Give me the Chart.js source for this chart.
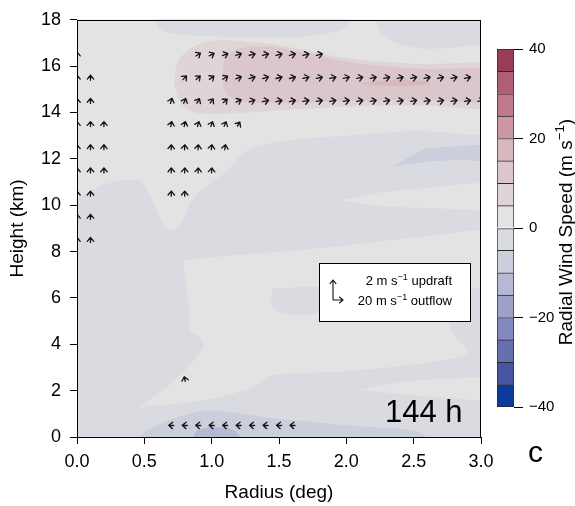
<!DOCTYPE html>
<html>
<head>
<meta charset="utf-8">
<script src="https://cdn.jsdelivr.net/npm/chart.js@4.4.0/dist/chart.umd.min.js"></script>
<style>
  html, body { margin: 0; padding: 0; background: #fff; }
  #wrap { position: relative; width: 575px; height: 506px; }
  #main { position: absolute; left: 0; top: 0; }
  #bar { position: absolute; left: 480px; top: 0; }
</style>
</head>
<body>
<div id="wrap">
  <canvas id="main" width="575" height="506"></canvas>
  <canvas id="bar" width="95" height="506"></canvas>
</div>
<script>
// Radial wind speed levels (m/s) and their colours, bottom to top
const levelEdges = [-40, -35, -30, -25, -20, -15, -10, -5, 0, 5, 10, 15, 20, 25, 30, 35, 40];
const levelColors = [
    '#0b3b9f', '#4655a3', '#6670b0', '#8389bd', '#9ca1c8', '#b5b9d4', '#cbcedb', '#dadbe0',
    '#e3e3e3', '#dfd4d6', '#dbc7cb', '#d6b8be', '#cb98a3', '#bf7b8b', '#b05e73', '#9c3d58'
];
const colorbarTicks = [-40, -20, 0, 20, 40];

// Contour patches as [radius (deg), height (km)] outlines, painted in this order
const patchBase = [[-0.5, -1], [3.5, -1], [3.5, 19], [-0.5, 19]];
const patchUpperLight = [[-0.3, 10.2], [0.0, 10.3], [0.18, 10.85], [0.36, 11.1], [0.48, 11.0], [0.56, 10.2],
    [0.63, 9.3], [0.7, 8.9], [0.78, 9.3], [0.85, 10.2], [0.95, 10.8], [1.12, 11.5], [1.25, 12.3], [1.5, 12.75],
    [2.0, 13.0], [2.5, 13.2], [3.3, 13.3], [3.3, 16.7], [2.6, 16.75], [2.4, 16.95], [2.25, 17.5], [2.15, 19], [-0.3, 19]];
const patchTopDark = [[0.55, 19], [0.62, 17.6], [0.8, 17.35], [1.2, 17.25], [1.6, 17.25], [1.85, 17.4], [2.0, 17.7], [2.1, 19]];
const patchOutflowOuter = [[0.72, 15.3], [0.75, 16.2], [0.85, 16.8], [1.0, 17.1], [1.3, 17.05], [1.7, 16.7], [2.0, 16.35],
    [2.5, 16.1], [3.3, 15.95], [3.3, 14.3], [2.5, 14.3], [2.0, 14.25], [1.5, 14.1], [1.1, 13.95], [0.88, 14.0], [0.77, 14.4]];
const patchOutflowInner = [[1.08, 15.6], [1.1, 16.3], [1.2, 16.75], [1.4, 16.85], [1.7, 16.6], [2.0, 16.2], [2.5, 15.9],
    [3.3, 15.75], [3.3, 14.55], [2.5, 14.55], [2.0, 14.5], [1.5, 14.4], [1.2, 14.5], [1.1, 14.9]];
const patchOutflowCore = [[2.1, 15.25], [2.3, 15.38], [2.6, 15.35], [2.62, 15.22], [2.3, 15.15]];
const patchUpperBlue = [[2.35, 11.65], [2.5, 12.2], [2.6, 12.45], [3.3, 12.55], [3.3, 11.9], [2.8, 11.95], [2.5, 11.8]];
const patchMidLight = [[1.95, 10.2], [2.2, 10.5], [2.5, 10.7], [3.3, 10.95], [3.3, 9.9], [2.5, 9.9], [2.2, 10.0]];
const patchLowLight = [[0.79, 7.6], [1.0, 7.75], [1.4, 7.95], [1.9, 8.2], [2.5, 8.6], [3.3, 8.85], [3.3, 6.9], [2.95, 6.4],
    [2.78, 5.5], [2.78, 4.6], [2.9, 3.65], [2.7, 3.3], [2.3, 3.0], [1.9, 2.8], [1.45, 2.66], [1.3, 2.15], [1.05, 1.72],
    [0.7, 1.4], [0.45, 1.25], [0.36, 0.86], [0.5, 1.45], [0.72, 2.4], [0.85, 3.2], [0.94, 3.95], [0.9, 4.4], [0.84, 4.6],
    [0.83, 5.8], [0.8, 7.0]];
const patchLowDarkBlob = [[1.45, 6.4], [1.45, 5.6], [1.55, 5.3], [1.75, 5.3], [1.85, 5.6], [1.85, 6.4]];
const patchNearSurfaceLight = [[2.1, 2.05], [2.4, 2.35], [2.7, 2.5], [3.3, 2.5], [3.3, 1.6], [2.7, 1.7], [2.4, 1.85]];
const patchInflowOuter = [[0.42, -0.5], [0.5, 0.2], [0.65, 0.65], [0.8, 0.95], [0.97, 1.15], [1.15, 1.08], [1.4, 0.85],
    [1.8, 0.62], [2.2, 0.42], [2.55, 0.2], [2.62, -0.5]];
const patchInflowCore = [[0.86, -0.5], [0.88, 0.2], [0.95, 0.38], [1.05, 0.42], [1.15, 0.32], [1.2, 0.1], [1.22, -0.5]];

const patches = [patchBase, patchUpperLight, patchTopDark, patchOutflowOuter, patchOutflowInner, patchOutflowCore,
    patchUpperBlue, patchMidLight, patchLowLight, patchLowDarkBlob, patchNearSurfaceLight, patchInflowOuter, patchInflowCore];
const patchLevels = [7, 8, 7, 9, 10, 11, 6, 8, 8, 7, 8, 6, 5];

// Wind vectors: one row per height (km), radius (deg), radial wind u (m/s), vertical wind w (m/s)
const arrowRows = [16.5, 15.5, 14.5, 13.5, 12.5, 11.5, 10.5, 9.5, 8.5, 2.5, 0.5];
const arrowR = [
    [0.0, 0.9, 1.0, 1.1, 1.2, 1.3, 1.4, 1.5, 1.6, 1.7, 1.8],
    [0.0, 0.1, 0.8, 0.9, 1.0, 1.1, 1.2, 1.3, 1.4, 1.5, 1.6, 1.7, 1.8, 1.9, 2.0, 2.1, 2.2, 2.3, 2.4, 2.5, 2.6, 2.7, 2.8, 2.9],
    [0.0, 0.1, 0.7, 0.8, 0.9, 1.0, 1.1, 1.2, 1.3, 1.4, 1.5, 1.6, 1.7, 1.8, 1.9, 2.0, 2.1, 2.2, 2.3, 2.4, 2.5, 2.6, 2.7, 2.8, 2.9, 3.0],
    [0.0, 0.1, 0.2, 0.7, 0.8, 0.9, 1.0, 1.1, 1.2],
    [0.0, 0.1, 0.2, 0.7, 0.8, 0.9, 1.0, 1.1],
    [0.0, 0.1, 0.2, 0.7, 0.8, 0.9, 1.0],
    [0.0, 0.1, 0.7, 0.8],
    [0.0, 0.1],
    [0.0, 0.1],
    [0.8],
    [0.7, 0.8, 0.9, 1.0, 1.1, 1.2, 1.3, 1.4, 1.5, 1.6]
];
const arrowU = [
    [0, 9, 10, 11, 11, 12, 12, 12, 12, 12, 12],
    [0, 0, 7, 8, 9, 10, 11, 12, 12, 12, 12, 12, 12, 12, 12, 12, 12, 12, 12, 12, 12, 12, 12, 12],
    [0, 0, 3.5, 4, 5, 6, 8, 10, 11, 12, 12, 12, 12, 12, 12, 12, 12, 12, 12, 12, 12, 12, 12, 12, 12, 12],
    [0, 0, 0, 2, 2.5, 3, 3.5, 4, 5],
    [0, 0, 0, 0.5, 1, 1, 1.5, 1.5],
    [0, 0, 0, 0, 0.5, 0.5, 0.5],
    [0, 0, 0, 0],
    [0, 0],
    [0, 0],
    [-2],
    [-10, -10, -10, -10, -10, -10, -10, -10, -10, -10]
];
const arrowW = [
    [0.5, 0.28, 0.25, 0.2, 0.18, 0.16, 0.15, 0.15, 0.14, 0.14, 0.14],
    [0.5, 0.5, 0.38, 0.35, 0.33, 0.3, 0.22, 0.17, 0.16, 0.15, 0.15, 0.14, 0.14, 0.14, 0.14, 0.13, 0.13, 0.13, 0.13, 0.12, 0.12, 0.12, 0.12, 0.12],
    [0.5, 0.5, 0.5, 0.48, 0.45, 0.42, 0.35, 0.25, 0.18, 0.13, 0.12, 0.12, 0.11, 0.11, 0.11, 0.1, 0.1, 0.1, 0.1, 0.1, 0.1, 0.1, 0.1, 0.1, 0.1, 0.1],
    [0.5, 0.5, 0.5, 0.5, 0.5, 0.48, 0.47, 0.45, 0.4],
    [0.5, 0.5, 0.5, 0.5, 0.5, 0.5, 0.5, 0.5],
    [0.5, 0.5, 0.5, 0.5, 0.5, 0.5, 0.5],
    [0.5, 0.5, 0.5, 0.5],
    [0.5, 0.5],
    [0.5, 0.5],
    [0.45],
    [0.02, 0.02, 0.02, 0.02, 0.02, 0.02, 0.02, 0.02, 0.02, 0.02]
];

// Vector key: 20 m/s outflow and 2 m/s updraft
const keyOutflow = 20;
const keyUpdraft = 2;
const PX_PER_U = 0.5;   // pixels per m/s of radial wind
const PX_PER_W = 10;    // pixels per m/s of vertical wind

const FONT = "'Liberation Sans', Arial, Helvetica, sans-serif";
Chart.defaults.font.family = FONT;
Chart.defaults.color = '#000';

function drawArrow(ctx, x0, y0, x1, y1, head) {
    const ang = Math.atan2(y1 - y0, x1 - x0);
    ctx.beginPath();
    ctx.moveTo(x0, y0);
    ctx.lineTo(x1, y1);
    ctx.moveTo(x1 - head * Math.cos(ang - 0.7), y1 - head * Math.sin(ang - 0.7));
    ctx.lineTo(x1, y1);
    ctx.lineTo(x1 - head * Math.cos(ang + 0.7), y1 - head * Math.sin(ang + 0.7));
    ctx.stroke();
}

// text with a "−1" style superscript part
function drawSupText(ctx, parts, x, y, size) {
    let cx = x;
    parts.forEach(p => {
        const s = p.sup ? size * 0.7 : size;
        ctx.font = s + 'px ' + FONT;
        ctx.fillText(p.t, cx, p.sup ? y - size * 0.42 : y);
        cx += ctx.measureText(p.t).width;
    });
}
function supTextWidth(ctx, parts, size) {
    let w = 0;
    parts.forEach(p => {
        ctx.font = (p.sup ? size * 0.7 : size) + 'px ' + FONT;
        w += ctx.measureText(p.t).width;
    });
    return w;
}

const arrowPlugin = {
    id: 'windArrows',
    afterDatasetsDraw(chart) {
        const {ctx, chartArea: a, scales: {x, y}} = chart;
        ctx.save();
        ctx.beginPath();
        ctx.rect(a.left, a.top, a.right - a.left, a.bottom - a.top);
        ctx.clip();
        ctx.strokeStyle = '#141414';
        ctx.lineWidth = 1.3;
        ctx.lineCap = 'round';
        ctx.lineJoin = 'round';
        arrowRows.forEach((h, j) => {
            arrowR[j].forEach((r, i) => {
                const cx = x.getPixelForValue(r);
                const cy = y.getPixelForValue(h);
                const dx = arrowU[j][i] * PX_PER_U;
                const dy = -arrowW[j][i] * PX_PER_W;
                drawArrow(ctx, cx - dx / 2, cy - dy / 2, cx + dx / 2, cy + dy / 2, 5);
            });
        });
        ctx.restore();
    }
};

const framePlugin = {
    id: 'frameAndKey',
    afterDraw(chart) {
        const {ctx, chartArea: a} = chart;
        ctx.save();
        ctx.strokeStyle = '#000';
        ctx.lineWidth = 1;
        ctx.strokeRect(Math.round(a.left) + 0.5, Math.round(a.top) + 0.5,
            Math.round(a.right - a.left) - 1, Math.round(a.bottom - a.top));

        // vector key box
        ctx.fillStyle = '#fff';
        ctx.fillRect(319.5, 263.5, 151, 58);
        ctx.strokeRect(319.5, 263.5, 151, 58);
        ctx.strokeStyle = '#111';
        ctx.lineWidth = 1.1;
        const ox = 333, oy = 300;
        drawArrow(ctx, ox, oy, ox, oy - keyUpdraft * PX_PER_W, 5);
        drawArrow(ctx, ox, oy, ox + keyOutflow * PX_PER_U, oy, 5);
        ctx.fillStyle = '#000';
        ctx.textBaseline = 'alphabetic';
        ctx.textAlign = 'left';
        const l1 = [{t: keyUpdraft + ' m s'}, {t: '\u22121', sup: true}, {t: ' updraft'}];
        const l2 = [{t: keyOutflow + ' m s'}, {t: '\u22121', sup: true}, {t: ' outflow'}];
        drawSupText(ctx, l1, 452 - supTextWidth(ctx, l1, 13), 285, 13);
        drawSupText(ctx, l2, 452 - supTextWidth(ctx, l2, 13), 305, 13);

        // time stamp and panel letter
        ctx.font = '31px ' + FONT;
        ctx.fillText('144 h', 385, 422);
        ctx.font = '30px ' + FONT;
        ctx.fillText('c', 528, 462);
        ctx.restore();
    }
};

const regionSets = patches.map((pts, i) => ({
    data: pts.concat([pts[0]]).map(p => ({x: p[0], y: p[1]})),
    backgroundColor: levelColors[patchLevels[i]],
    borderColor: 'rgba(0,0,0,0)',
    borderWidth: 0,
    fill: 'shape',
    tension: 0.3,
    capBezierPoints: false,
    pointRadius: 0,
    pointHitRadius: 0,
    order: patches.length - i
}));

new Chart(document.getElementById('main'), {
    type: 'line',
    data: {datasets: regionSets},
    options: {
        responsive: false,
        animation: false,
        events: [],
        layout: {padding: {left: 0, top: 18, right: 94, bottom: 0}},
        plugins: {legend: {display: false}, tooltip: {enabled: false}},
        scales: {
            x: {
                type: 'linear', min: 0, max: 3,
                ticks: {stepSize: 0.5, callback: v => v.toFixed(1), font: {size: 18}, padding: 7, maxRotation: 0, autoSkip: false},
                grid: {drawOnChartArea: false, drawTicks: true, tickLength: 7, color: '#000'},
                border: {display: false},
                title: {display: true, text: 'Radius (deg)', font: {size: 19}, padding: {top: 0, bottom: 2}},
                afterFit: s => { s.height = 69; }
            },
            y: {
                type: 'linear', min: 0, max: 18,
                ticks: {stepSize: 2, font: {size: 18}, padding: 9},
                grid: {drawOnChartArea: false, drawTicks: true, tickLength: 7, color: '#000'},
                border: {display: false},
                title: {display: true, text: 'Height (km)', font: {size: 19}, padding: {top: 6, bottom: 0}},
                afterFit: s => { s.width = 77; }
            }
        }
    },
    plugins: [arrowPlugin, framePlugin]
});

// Colour bar
const barTitlePlugin = {
    id: 'barTitle',
    afterDraw(chart) {
        const ctx = chart.ctx;
        const parts = [{t: 'Radial Wind Speed (m s'}, {t: '\u22121', sup: true}, {t: ')'}];
        ctx.save();
        ctx.translate(92, 232);
        ctx.rotate(-Math.PI / 2);
        ctx.fillStyle = '#000';
        ctx.textBaseline = 'alphabetic';
        ctx.textAlign = 'left';
        drawSupText(ctx, parts, -supTextWidth(ctx, parts, 19) / 2, 0, 19);
        ctx.restore();
    }
};

new Chart(document.getElementById('bar'), {
    type: 'bar',
    data: {
        labels: [''],
        datasets: levelColors.map((c, i) => ({
            data: [[levelEdges[i], levelEdges[i + 1]]],
            backgroundColor: c,
            borderColor: '#2a2a2a',
            borderWidth: {top: 1, left: 1, right: 1, bottom: i === 0 ? 1 : 0},
            borderSkipped: false,
            grouped: false,
            barPercentage: 1,
            categoryPercentage: 1
        }))
    },
    options: {
        responsive: false,
        animation: false,
        events: [],
        layout: {padding: {left: 17, top: 49, right: 0, bottom: 99}},
        plugins: {legend: {display: false}, tooltip: {enabled: false}},
        scales: {
            x: {display: false},
            y: {
                position: 'right', min: -40, max: 40,
                afterBuildTicks: s => { s.ticks = colorbarTicks.map(v => ({value: v})); },
                ticks: {callback: v => v < 0 ? '\u2212' + Math.abs(v) : String(v), font: {size: 15}, padding: 6},
                grid: {drawOnChartArea: false, drawTicks: true, tickLength: 9, color: '#000'},
                border: {display: false},
                afterFit: s => { s.width = 61; }
            }
        }
    },
    plugins: [barTitlePlugin]
});
</script>
</body>
</html>
